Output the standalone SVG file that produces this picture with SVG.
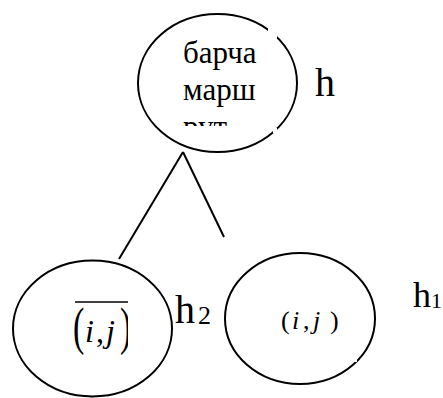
<svg xmlns="http://www.w3.org/2000/svg" width="443" height="398" viewBox="0 0 443 398">
<defs>
<style>
.n{fill:none;stroke:#000;stroke-width:2}
.gap{fill:#fff;stroke:none}
text{font-family:'Liberation Serif','Times New Roman',serif;fill:#000}
</style>
<clipPath id="c1"><rect x="170" y="30" width="106" height="96"/></clipPath>
<clipPath id="c2"><rect x="60" y="290" width="68" height="80"/></clipPath>
</defs>
<rect width="443" height="398" fill="#fff"/>
<g id="connectors">
<line class="n" x1="183" y1="152" x2="119" y2="259"/>
<line class="n" x1="183" y1="152" x2="224" y2="237"/>
</g>
<g id="root">
<ellipse class="n" cx="217.5" cy="83" rx="79.5" ry="69"/>
<rect class="gap" x="268" y="27" width="9" height="12"/>
<rect class="gap" x="273" y="128" width="4" height="5"/>
<g clip-path="url(#c1)">
<text font-size="31" x="183" y="63">барча</text>
<text font-size="31" x="183" y="100">марш</text>
<text font-size="31" x="183" y="137">рут</text>
</g>
<text font-size="40" x="315" y="96">h</text>
</g>
<g id="left">
<ellipse class="n" cx="92.5" cy="328.5" rx="79.5" ry="68"/>
<line x1="75" y1="302" x2="128" y2="302" stroke="#000" stroke-width="1.5"/>
<g clip-path="url(#c2)">
<text font-size="52" transform="translate(73,344) scale(0.65,1)">(</text>
<text font-style="italic" font-size="32" x="85" y="342">i</text>
<text font-size="32" x="96" y="342">,</text>
<text font-style="italic" font-size="32" x="106" y="342">j</text>
<text font-size="52" transform="translate(120,344) scale(0.65,1)">)</text>
</g>
<text font-size="40" x="175" y="323">h</text>
<text font-size="26" x="198" y="324">2</text>
</g>
<g id="right">
<ellipse class="n" cx="300" cy="318.5" rx="75" ry="65.5"/>
<rect class="gap" x="352" y="355" width="5" height="7"/>
<text font-size="26" x="281" y="329">(</text>
<text font-style="italic" font-size="26" x="292" y="329">i</text>
<text font-size="26" x="303" y="329">,</text>
<text font-style="italic" font-size="26" x="313" y="329">j</text>
<text font-size="26" x="330" y="329">)</text>
<text font-size="36" x="413" y="307">h</text>
<text font-size="22" x="431" y="308">1</text>
</g>
</svg>
